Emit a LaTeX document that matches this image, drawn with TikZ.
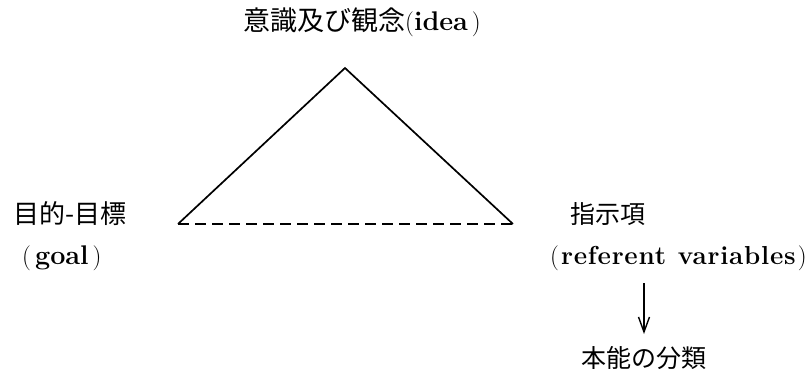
\documentclass[tikz,border=0pt]{standalone}
\usepackage{fontspec}
\newfontfamily\jp{Noto Sans CJK JP}
\newfontfamily\lat[LetterSpace=3]{Latin Modern Roman}
\usetikzlibrary{arrows.meta}
\tikzset{
  lbl/.style={inner sep=0pt, anchor=west, font=\fontsize{25}{30}\selectfont},
  edge/.style={line width=1.7pt, line join=miter},
  base/.style={line width=1.6pt, dash pattern=on 11pt off 6pt},
  arr/.style={line width=1.4pt, -{Straight Barb[length=15pt,width=11pt,line width=1.4pt]}}
}
\begin{document}
\begin{tikzpicture}[x=1pt,y=-1pt]
\useasboundingbox (0,0) rectangle (812,376);
\node[lbl] (idea) at (243,22) {{\jp\fontsize{27}{30}\selectfont 意識及び観念}({\fontsize{27}{30}\selectfont\bfseries idea}\hspace{4pt})};
\node[lbl] (goalj) at (13,214) {{\jp\fontsize{26}{30}\selectfont 目的-目標}};
\node[lbl] (goal) at (22,258) {(\hspace{4pt}{\fontsize{27}{30}\selectfont\bfseries goal}\hspace{4pt})};
\node[lbl] (refj) at (570,214) {{\jp 指示項}};
\node[lbl] (ref) at (550,258) {(\hspace{2pt}{\lat\fontsize{26}{30}\selectfont\bfseries referent\hspace{0.45em}variables}\hspace{2pt})};
\node[inner sep=0pt, font=\fontsize{25}{30}\selectfont] (inst) at (644,358) {{\jp 本能の分類}};
\coordinate (apex) at (345,68);
\coordinate (L) at (178,224);
\coordinate (R) at (513,224);
\coordinate (a1) at (644,283);
\coordinate (a2) at (644,334);
\draw[edge] (L) -- (apex) -- (R);
\draw[base] (L) -- (R);
\draw[arr] (a1) -- (a2);
\end{tikzpicture}
\end{document}
